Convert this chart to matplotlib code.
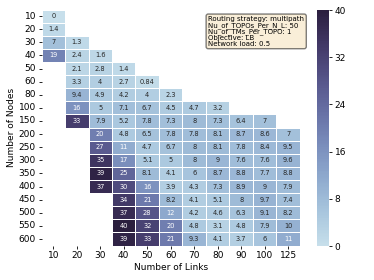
import numpy as np
import pandas as pd
import matplotlib
matplotlib.use("Agg")
import matplotlib.pyplot as plt
import seaborn as sns

links = [10, 20, 30, 40, 50, 60, 70, 80, 90, 100, 125]
nodes = [10, 20, 30, 40, 50, 60, 80, 100, 150, 200, 250, 300, 350, 400, 450, 500, 550, 600]

n = np.nan
# rows = nodes, columns = links
vals = [
    [0,    n,    n,    n,    n,    n,    n,   n,   n,   n,   n],
    [1.4,  n,    n,    n,    n,    n,    n,   n,   n,   n,   n],
    [7,    1.3,  n,    n,    n,    n,    n,   n,   n,   n,   n],
    [19,   2.4,  1.6,  n,    n,    n,    n,   n,   n,   n,   n],
    [n,    2.1,  2.8,  1.4,  n,    n,    n,   n,   n,   n,   n],
    [n,    3.3,  4,    2.7,  0.84, n,    n,   n,   n,   n,   n],
    [n,    9.4,  4.9,  4.2,  4,    2.3,  n,   n,   n,   n,   n],
    [n,    16,   5,    7.1,  6.7,  4.5,  4.7, 3.2, n,   n,   n],
    [n,    33,   7.9,  5.2,  7.8,  7.3,  8,   7.3, 6.4, 7,   n],
    [n,    n,    20,   4.8,  6.5,  7.8,  7.8, 8.1, 8.7, 8.6, 7],
    [n,    n,    27,   11,   4.7,  6.7,  8,   8.1, 7.8, 8.4, 9.5],
    [n,    n,    35,   17,   5.1,  5,    8,   9,   7.6, 7.6, 9.6],
    [n,    n,    39,   25,   8.1,  4.1,  6,   8.7, 8.8, 7.7, 8.8],
    [n,    n,    37,   30,   16,   3.9,  4.3, 7.3, 8.9, 9,   7.9],
    [n,    n,    n,    34,   21,   8.2,  4.1, 5.1, 8,   9.7, 7.4],
    [n,    n,    n,    37,   28,   12,   4.2, 4.6, 6.3, 9.1, 8.2],
    [n,    n,    n,    40,   32,   20,   4.8, 3.1, 4.8, 7.9, 10],
    [n,    n,    n,    39,   33,   21,   9.3, 4.1, 3.7, 6,   11],
]

df = pd.DataFrame(vals, index=nodes, columns=links)

info = ("Routing strategy: multipath\n"
        "Nu_of_TOPOs_Per_N_L: 50\n"
        "Nu_of_TMs_Per_TOPO: 1\n"
        "Objective: LB\n"
        "Network load: 0.5")

fig = plt.figure(figsize=(3.74, 2.8), dpi=100)
ax = fig.add_axes([0.111, 0.123, 0.691, 0.843])
cax = fig.add_axes([0.848, 0.121, 0.032, 0.843])

cmap = sns.color_palette("ch:s=.25,rot=-.25", as_cmap=True)
sns.heatmap(df, ax=ax, cbar_ax=cax, cmap=cmap, vmin=0, vmax=40,
            annot=True, fmt=".2g", annot_kws={"fontsize": 4.8},
            linewidths=0.5, linecolor="white",
            xticklabels=True, yticklabels=True,
            cbar_kws={"ticks": [0, 8, 16, 24, 32, 40]})

ax.set_xlabel("Number of Links", fontsize=6.5, labelpad=2)
ax.set_ylabel("Number of Nodes", fontsize=6.5, labelpad=2)
ax.tick_params(axis="both", labelsize=6.5, length=2, width=0.6, pad=2)
ax.set_yticklabels(ax.get_yticklabels(), rotation=0)
ax.set_xticklabels(ax.get_xticklabels(), rotation=0)
cax.tick_params(labelsize=6.5, length=2, width=0.6, pad=2)
cax.set_frame_on(False)

ax.text(0.645, 0.972, info, transform=ax.transAxes, fontsize=5,
        va="top", ha="left", linespacing=0.95,
        bbox=dict(boxstyle="round", facecolor="wheat", alpha=0.5, pad=0.3))

fig.savefig("out.png", dpi=100)
